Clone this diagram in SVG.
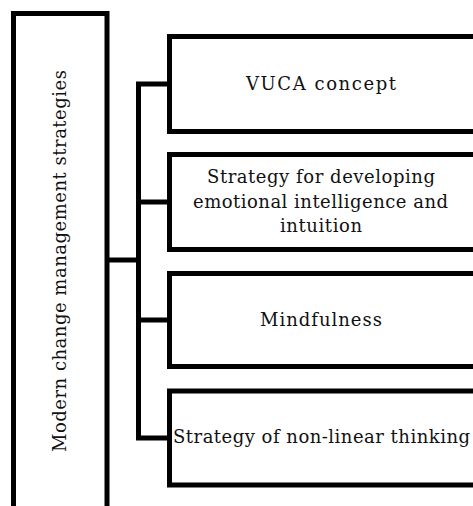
<svg xmlns="http://www.w3.org/2000/svg" width="473" height="506" viewBox="0 0 473 506">
<style>
.box{fill:#fff;stroke:#000;stroke-width:5}
.conn{fill:none;stroke:#000;stroke-width:5;stroke-linejoin:miter;stroke-linecap:butt}
.lbl{font-family:"DejaVu Serif","Liberation Serif",serif;font-size:18px;fill:#111}
</style>
<rect width="473" height="506" fill="#fff"/>
<g id="connectors">
<path class="conn" d="M107 260H138.5"/>
<path class="conn" d="M169.5 84H138.5V438H169.5"/>
<path class="conn" d="M138.5 202H169.5"/>
<path class="conn" d="M138.5 320H169.5"/>
</g>
<g id="root">
<rect class="box" x="13.5" y="13.5" width="93.5" height="510"/>
<text class="lbl" transform="translate(66 452) rotate(-90)" x="0" y="0" textLength="382" lengthAdjust="spacing">Modern change management strategies</text>
</g>
<g id="vuca">
<rect class="box" x="169.5" y="36.5" width="320" height="95"/>
<text class="lbl" x="246" y="90" textLength="150" lengthAdjust="spacing">VUCA concept</text>
</g>
<g id="emotional">
<rect class="box" x="169.5" y="154.5" width="320" height="95"/>
<text class="lbl" x="207" y="183" textLength="228" lengthAdjust="spacing">Strategy for developing</text>
<text class="lbl" x="193" y="208" textLength="255" lengthAdjust="spacing">emotional intelligence and</text>
<text class="lbl" x="280" y="232" textLength="82" lengthAdjust="spacing">intuition</text>
</g>
<g id="mindfulness">
<rect class="box" x="169.5" y="273.5" width="320" height="93"/>
<text class="lbl" x="260" y="326" textLength="122" lengthAdjust="spacing">Mindfulness</text>
</g>
<g id="nonlinear">
<rect class="box" x="169.5" y="391" width="320" height="94"/>
<text class="lbl" x="173" y="443" textLength="297" lengthAdjust="spacing">Strategy of non-linear thinking</text>
</g>
</svg>
